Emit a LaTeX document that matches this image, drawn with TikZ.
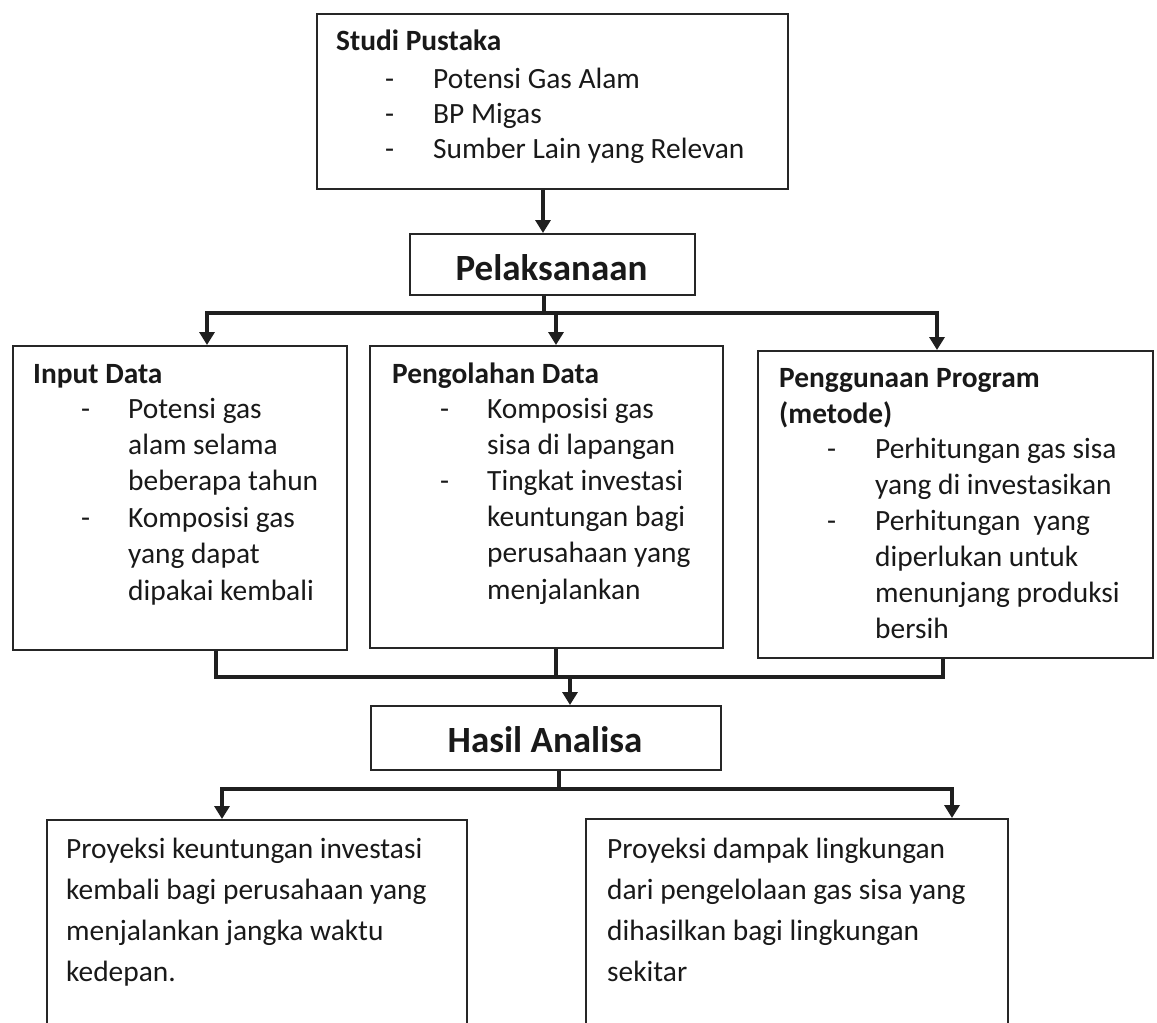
\documentclass[tikz,border=0pt]{standalone}
\usepackage{fontspec}
\setmainfont{Carlito}
\usetikzlibrary{arrows.meta}
\begin{document}
\begin{tikzpicture}[x=1pt,y=-1pt,
  box/.style={draw=black!85, line width=1.8pt, inner sep=0pt, anchor=north west},
  txt/.style={anchor=base west, inner sep=0pt, font=\fontsize{29.4}{36}\selectfont, text=black!90},
  ttl/.style={txt, font=\fontsize{29.4}{36}\selectfont\bfseries},
  big/.style={anchor=base, inner sep=0pt, font=\fontsize{37}{44}\selectfont\bfseries, text=black!90},
  link/.style={line width=4.5pt, draw=black!88, line join=miter},
  arr/.style={link, -{Triangle[width=15pt,length=13pt]}},
]
\path[use as bounding box, clip] (0,0) rectangle (1157,1023);

% ---- boxes ----
\node[box, minimum width=471, minimum height=175] (studi) at (316,13) {};
\node[box, minimum width=285, minimum height=61]  (pel)   at (409,233) {};
\node[box, minimum width=334, minimum height=304] (input) at (12,345) {};
\node[box, minimum width=353, minimum height=302] (olah)  at (369,345) {};
\node[box, minimum width=395, minimum height=307] (guna)  at (757,350) {};
\node[box, minimum width=350, minimum height=64]  (hasil) at (370,705) {};
\node[box, minimum width=420, minimum height=260] (projA) at (46,819) {};
\node[box, minimum width=422, minimum height=260] (projB) at (585,818) {};

% ---- Studi Pustaka ----
\node[ttl] (studi-t) at (336,50) {Studi Pustaka};
\foreach \y [count=\i] in {88,123,158} \node[txt] (studi-d\i) at (385,\y) {-};
\foreach \t [count=\i from 0] in {Potensi Gas Alam,BP Migas,Sumber Lain yang Relevan}
  \node[txt] (studi-l\i) at (433,88+35*\i) {\t};

% ---- Pelaksanaan / Hasil Analisa ----
\node[big] (pel-t) at (551.5,280) {Pelaksanaan};
\node[big] (hasil-t) at (545,752) {Hasil Analisa};

% ---- Input Data ----
\node[ttl] (input-t) at (33,383) {Input Data};
\foreach \y [count=\i] in {418,527.2} \node[txt] (input-d\i) at (81,\y) {-};
\foreach \t [count=\i from 0] in {Potensi gas,alam selama,beberapa tahun,Komposisi gas,yang dapat,dipakai kembali}
  \node[txt] (input-l\i) at (128,418+36.4*\i) {\t};

% ---- Pengolahan Data ----
\node[ttl] (olah-t) at (392,383) {Pengolahan Data};
\foreach \y [count=\i] in {418,490.4} \node[txt] (olah-d\i) at (440,\y) {-};
\foreach \t [count=\i from 0] in {Komposisi gas,sisa di lapangan,Tingkat investasi,keuntungan bagi,perusahaan yang,menjalankan}
  \node[txt] (olah-l\i) at (487,418+36.2*\i) {\t};

% ---- Penggunaan Program ----
\node[ttl] (guna-t1) at (779,387) {Penggunaan Program};
\node[ttl] (guna-t2) at (779,423) {(metode)};
\foreach \y [count=\i] in {458,530} \node[txt] (guna-d\i) at (827,\y) {-};
\foreach \t [count=\i from 0] in {Perhitungan gas sisa,yang di investasikan,Perhitungan\ \ yang,diperlukan untuk,menunjang produksi,bersih}
  \node[txt] (guna-l\i) at (875,458+36*\i) {\t};

% ---- projections ----
\foreach \t [count=\i from 0] in {Proyeksi keuntungan investasi,kembali bagi perusahaan yang,menjalankan jangka waktu,kedepan.}
  \node[txt] (projA-l\i) at (66,858+41*\i) {\t};
\foreach \t [count=\i from 0] in {Proyeksi dampak lingkungan,dari pengelolaan gas sisa yang,dihasilkan bagi lingkungan,sekitar}
  \node[txt] (projB-l\i) at (607,858+41*\i) {\t};

% ---- connectors ----
\coordinate (xa) at (543,0);
\draw[arr] (studi.south -| xa) -- (pel.north -| xa);

\coordinate (tj) at (544,313);
\coordinate (tl) at (207,313);
\coordinate (tm) at (556,313);
\coordinate (tr) at (937,313);
\draw[link] (pel.south -| tj) -- (tj);
\draw[arr] (tr) -- (tl) -- (input.north -| tl);
\draw[arr] (tl) -- (tr) -- (guna.north -| tr);
\draw[arr] (tm) -- (olah.north -| tm);

\coordinate (bl) at (216,677);
\coordinate (bm) at (556,677);
\coordinate (br) at (943,677);
\coordinate (ba) at (570,677);
\draw[link] (input.south -| bl) -- (bl) -- (br) -- (guna.south -| br);
\draw[link] (olah.south -| bm) -- (bm);
\draw[arr] (ba) -- (hasil.north -| ba);

\coordinate (hj) at (559,789);
\coordinate (hl) at (222,789);
\coordinate (hr) at (952,789);
\draw[link] (hasil.south -| hj) -- (hj);
\draw[arr] (hr) -- (hl) -- (projA.north -| hl);
\draw[arr] (hl) -- (hr) -- (projB.north -| hr);
\end{tikzpicture}
\end{document}
